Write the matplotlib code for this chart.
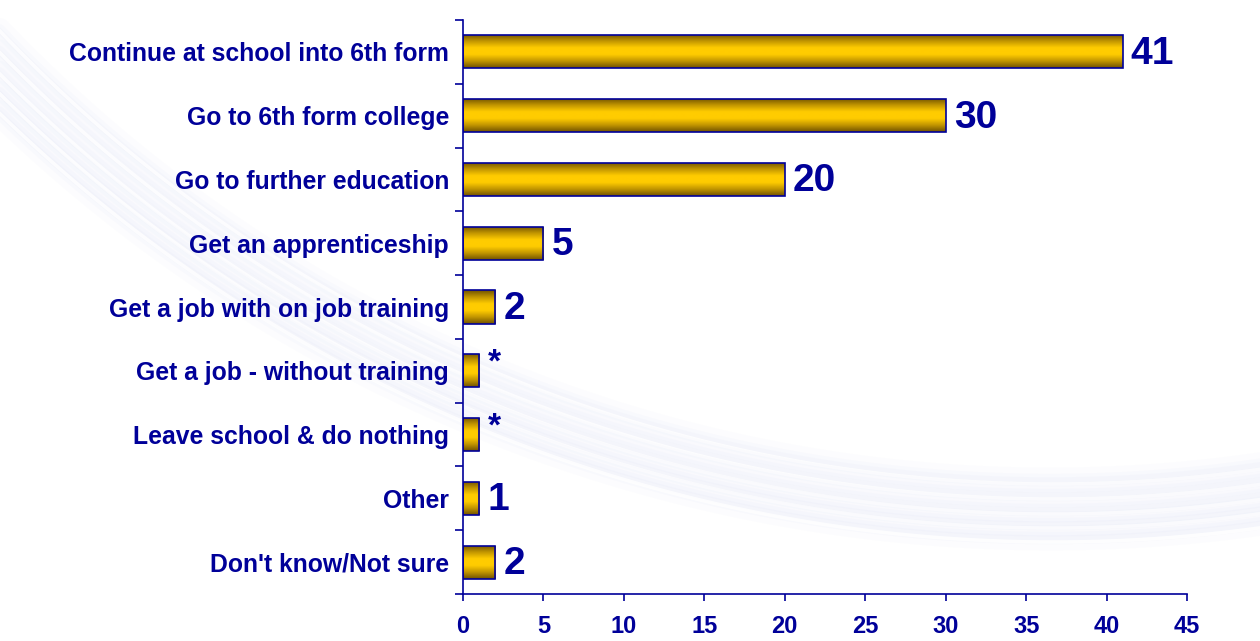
import numpy as np
import matplotlib
matplotlib.use("Agg")
import matplotlib.pyplot as plt
from matplotlib.colors import LinearSegmentedColormap

# Survey responses: what pupils plan to do after Year 11 (%)
categories = [
    "Continue at school into 6th form",
    "Go to 6th form college",
    "Go to further education",
    "Get an apprenticeship",
    "Get a job with on job training",
    "Get a job - without training",
    "Leave school & do nothing",
    "Other",
    "Don't know/Not sure",
]
values = [41, 30, 20, 5, 2, 1, 1, 1, 2]
value_labels = ["41", "30", "20", "5", "2", "*", "*", "1", "2"]
x_ticks = [0, 5, 10, 15, 20, 25, 30, 35, 40, 45]

NAVY = "#000099"
plt.rcParams["font.family"] = ["Liberation Sans", "DejaVu Sans"]

W, H = 1260, 641
fig = plt.figure(figsize=(W / 100, H / 100), dpi=100)
fig.patch.set_facecolor("white")

# Soft decorative swoosh behind the chart
bg = fig.add_axes([0, 0, 1, 1], zorder=0)
bg.set_xlim(0, W)
bg.set_ylim(H, 0)
bg.axis("off")
cx, cy, R0 = 1050, -973, 1473
xs = np.linspace(-50, W + 50, 600)
for off in [-20, -5, 10, 24, 38]:
    R = R0 + off
    ys = cy + np.sqrt(np.clip(R**2 - (xs - cx) ** 2, 0, None))
    for lw, a in [(18, 0.03), (9, 0.045), (4, 0.05)]:
        bg.plot(xs, ys, color="#B3BBE8", lw=lw, alpha=a, solid_capstyle="round")
    bg.plot(xs + 4, ys + 4, color="white", lw=2.5, alpha=0.8)

ax = fig.add_axes([463 / W, 1 - 594 / H, (1187 - 463) / W, (594 - 20) / H], zorder=1)
ax.patch.set_alpha(0)

y = np.arange(len(categories))
bar_h = 0.52
bars = ax.barh(y, values, height=bar_h, facecolor="none", edgecolor=NAVY,
               linewidth=1.2, zorder=3)

# Vertical gold gradient inside each bar
gold = LinearSegmentedColormap.from_list(
    "gold", ["#6E5000", "#C09400", "#FFCC00", "#FFCC00", "#C09400", "#6E5000"])
grad = np.linspace(0, 1, 256).reshape(-1, 1)
for b in bars:
    x0, y0 = b.get_x(), b.get_y()
    w, h = b.get_width(), b.get_height()
    im = ax.imshow(grad, cmap=gold, aspect="auto", interpolation="bicubic",
                   extent=(x0, x0 + w, y0 + h, y0), zorder=2)
    im.set_clip_path(b)

for yi, v, lab in zip(y, values, value_labels):
    if lab == "*":
        ax.text(v + 0.55, yi - 0.12, lab, ha="left", va="center", color=NAVY,
                fontsize=24, fontweight="bold", zorder=4)
    else:
        ax.text(v + 0.5, yi + 0.03, lab, ha="left", va="center", color=NAVY,
                fontsize=28, fontweight="bold", zorder=4)

ax.set_xlim(0, 45)
ax.set_ylim(len(categories) - 0.5, -0.5)

ax.set_xticks(x_ticks)
ax.set_xticklabels([str(t) for t in x_ticks])
ax.set_yticks(y)
ax.set_yticklabels(categories)
ax.set_yticks(np.arange(len(categories) + 1) - 0.5, minor=True)

ax.tick_params(axis="y", which="major", length=0, pad=10, labelsize=17.8,
               labelcolor=NAVY)
ax.tick_params(axis="y", which="minor", length=6, width=1.2, color=NAVY,
               direction="out")
ax.tick_params(axis="x", which="major", length=5, width=1.2, color=NAVY,
               direction="out", pad=10, labelsize=17, labelcolor=NAVY)
for lab in ax.get_yticklabels() + ax.get_xticklabels():
    lab.set_fontweight("bold")

for s in ["top", "right"]:
    ax.spines[s].set_visible(False)
for s in ["left", "bottom"]:
    ax.spines[s].set_color(NAVY)
    ax.spines[s].set_linewidth(1.2)

fig.savefig("out.png", dpi=100, facecolor="white")
